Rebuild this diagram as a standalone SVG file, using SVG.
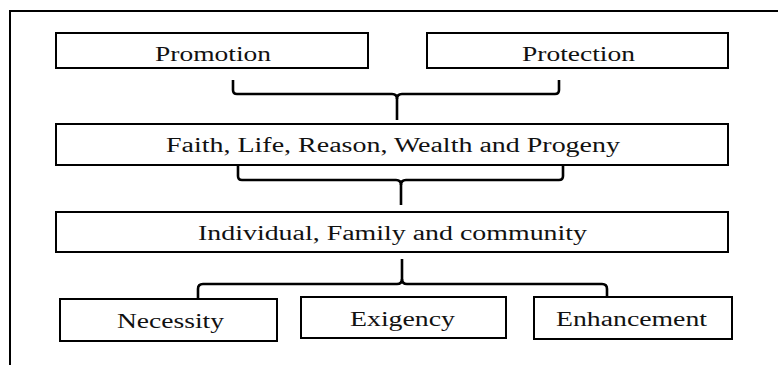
<svg xmlns="http://www.w3.org/2000/svg" width="778" height="365" viewBox="0 0 778 365">
<style>
.box{fill:#fff;stroke:#000;stroke-width:2}
.lbl{font-family:"Liberation Serif","Times New Roman",serif;font-size:20px;fill:#111}
.con{fill:none;stroke:#000;stroke-width:2.6;stroke-linejoin:round}
</style>
<rect x="10" y="11" width="800" height="400" fill="#fff" stroke="#000" stroke-width="2"/>
<g id="connectors">
<path class="con" d="M233,80 L233,90 Q233,94 237,94 L392,94 Q397,94 397,99 L397,120"/>
<path class="con" d="M559,80 L559,90 Q559,94 555,94 L402,94 Q397,94 397,99"/>
<path class="con" d="M238,166 L238,176 Q238,180 242,180 L396,180 Q401,180 401,185 L401,205"/>
<path class="con" d="M563,166 L563,176 Q563,180 559,180 L406,180 Q401,180 401,185"/>
<path class="con" d="M402,259 L402,279 Q402,284 397,284 L203,284 Q198,284 198,289 L198,298"/>
<path class="con" d="M402,279 Q402,284 407,284 L602,284 Q607,284 607,289 L607,298"/>
</g>
<g id="promotion"><rect class="box" x="56" y="33" width="312" height="35"/><text class="lbl" x="155" y="61" textLength="116" lengthAdjust="spacingAndGlyphs">Promotion</text></g>
<g id="protection"><rect class="box" x="427" y="33" width="301" height="35"/><text class="lbl" x="522" y="61" textLength="113" lengthAdjust="spacingAndGlyphs">Protection</text></g>
<g id="faith"><rect class="box" x="56" y="124" width="672" height="41"/><text class="lbl" x="166" y="152" textLength="454" lengthAdjust="spacingAndGlyphs">Faith, Life, Reason, Wealth and Progeny</text></g>
<g id="individual"><rect class="box" x="56" y="212" width="672" height="40"/><text class="lbl" x="198" y="240" textLength="389" lengthAdjust="spacingAndGlyphs">Individual, Family and community</text></g>
<g id="necessity"><rect class="box" x="60" y="299" width="217" height="42"/><text class="lbl" x="117" y="328" textLength="107" lengthAdjust="spacingAndGlyphs">Necessity</text></g>
<g id="exigency"><rect class="box" x="301" y="297" width="205" height="41"/><text class="lbl" x="350" y="326" textLength="105" lengthAdjust="spacingAndGlyphs">Exigency</text></g>
<g id="enhancement"><rect class="box" x="534" y="297" width="198" height="42"/><text class="lbl" x="556" y="326" textLength="151" lengthAdjust="spacingAndGlyphs">Enhancement</text></g>
</svg>
